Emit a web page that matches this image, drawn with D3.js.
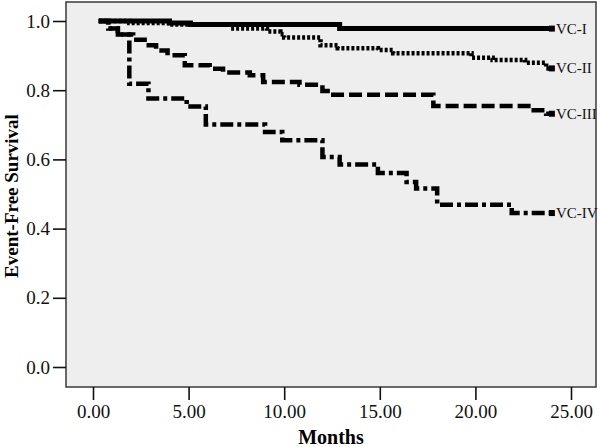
<!DOCTYPE html>
<html>
<head>
<meta charset="utf-8">
<script src="https://cdn.jsdelivr.net/npm/d3@7"></script>
<style>
  html, body { margin: 0; padding: 0; background: #ffffff; }
  svg { display: block; }
</style>
</head>
<body>
<svg id="chart" width="600" height="447"></svg>
<script>
// ---- Data (months, survival) ----
const seriesNames = ["VC-I", "VC-II", "VC-III", "VC-IV"];
const vc1 = [[0.3,1.0],[4.0,0.994],[5.1,0.99],[12.9,0.978],[24,0.978]];
const vc2 = [[0.3,1.0],[1.9,0.994],[4.0,0.99],[7.2,0.978],[9.1,0.970],[9.8,0.962],[10.0,0.952],[11.9,0.930],[12.8,0.921],[14.9,0.916],[15.7,0.907],[19.8,0.894],[20.9,0.887],[22.6,0.879],[23.7,0.863],[24,0.863]];
const vc3 = [[0.3,1.0],[0.8,0.978],[1.3,0.961],[2.1,0.946],[2.7,0.930],[3.3,0.915],[3.9,0.901],[4.8,0.872],[6.1,0.862],[6.8,0.851],[8.2,0.843],[8.9,0.824],[10.8,0.816],[12.0,0.798],[12.4,0.787],[17.8,0.754],[22.9,0.742],[23.7,0.732],[24,0.732]];
const vc4 = [[0.3,1.0],[0.8,0.978],[1.3,0.961],[1.9,0.819],[2.9,0.776],[4.9,0.753],[5.9,0.701],[9.0,0.679],[9.9,0.655],[12.0,0.607],[12.9,0.585],[14.9,0.561],[16.4,0.535],[16.9,0.516],[18.0,0.469],[21.9,0.445],[24,0.445]];
const xTicks = [0, 5, 10, 15, 20, 25];
const yTicks = [0, 0.2, 0.4, 0.6, 0.8, 1.0];

// ---- Layout ----
const svg = d3.select("#chart");
const frame = { left: 66, right: 596, top: 2, bottom: 387 };
const x = d3.scaleLinear().domain([0, 25]).range([93, 571]);
const y = d3.scaleLinear().domain([0, 1]).range([367, 21]);

const font = "'Liberation Serif', 'Times New Roman', serif";

// Plot background
svg.append("rect")
  .attr("x", frame.left).attr("y", frame.top)
  .attr("width", frame.right - frame.left).attr("height", frame.bottom - frame.top)
  .attr("fill", "#eeeeee").attr("stroke", "#3a3a3a").attr("stroke-width", 1.5);

// Y axis
const yAxis = d3.axisLeft(y).tickValues(yTicks).tickFormat(d3.format(".1f")).tickSize(13).tickPadding(3);
const gy = svg.append("g").attr("transform", `translate(${frame.left},0)`).call(yAxis);
gy.select(".domain").remove();
gy.selectAll(".tick line").attr("stroke", "#111").attr("stroke-width", 1.6);
gy.selectAll(".tick text").attr("font-family", font).attr("font-size", 19).attr("fill", "#111");

// X axis
const xAxis = d3.axisBottom(x).tickValues(xTicks).tickFormat(d3.format(".2f")).tickSize(13).tickPadding(5);
const gx = svg.append("g").attr("transform", `translate(0,${frame.bottom})`).call(xAxis);
gx.select(".domain").remove();
gx.selectAll(".tick line").attr("stroke", "#111").attr("stroke-width", 1.6);
gx.selectAll(".tick text").attr("font-family", font).attr("font-size", 19).attr("fill", "#111");

// Axis titles
svg.append("text")
  .attr("x", (frame.left + frame.right) / 2).attr("y", 444)
  .attr("text-anchor", "middle")
  .attr("font-family", font).attr("font-weight", "bold").attr("font-size", 20)
  .text("Months");
svg.append("text")
  .attr("transform", `translate(18,196) rotate(-90)`)
  .attr("text-anchor", "middle")
  .attr("font-family", font).attr("font-weight", "bold").attr("font-size", 19)
  .text("Event-Free Survival");

// Curves
const styles = {
  "VC-I":   { dash: null,        width: 5 },
  "VC-II":  { dash: "3,2",       width: 4.5 },
  "VC-III": { dash: "13,5",      width: 4.5 },
  "VC-IV":  { dash: "13,4,4,4",  width: 4.5 }
};
const allSeries = [vc1, vc2, vc3, vc4];
const line = d3.line().x(d => x(d[0])).y(d => y(d[1])).curve(d3.curveStepAfter);

allSeries.forEach((data, i) => {
  const name = seriesNames[i];
  const st = styles[name];
  svg.append("path")
    .datum(data)
    .attr("d", line)
    .attr("fill", "none")
    .attr("stroke", "#000")
    .attr("stroke-width", st.width)
    .attr("stroke-dasharray", st.dash)
    .attr("stroke-linecap", "butt");
  const last = data[data.length - 1];
  svg.append("rect")
    .attr("x", x(last[0]) - 3).attr("y", y(last[1]) - 3)
    .attr("width", 6).attr("height", 6).attr("fill", "#000");
  svg.append("text")
    .attr("x", x(last[0]) + 4).attr("y", y(last[1]) + 5)
    .attr("font-family", font).attr("font-size", 15).attr("fill", "#111")
    .text(name);
});
</script>
</body>
</html>
